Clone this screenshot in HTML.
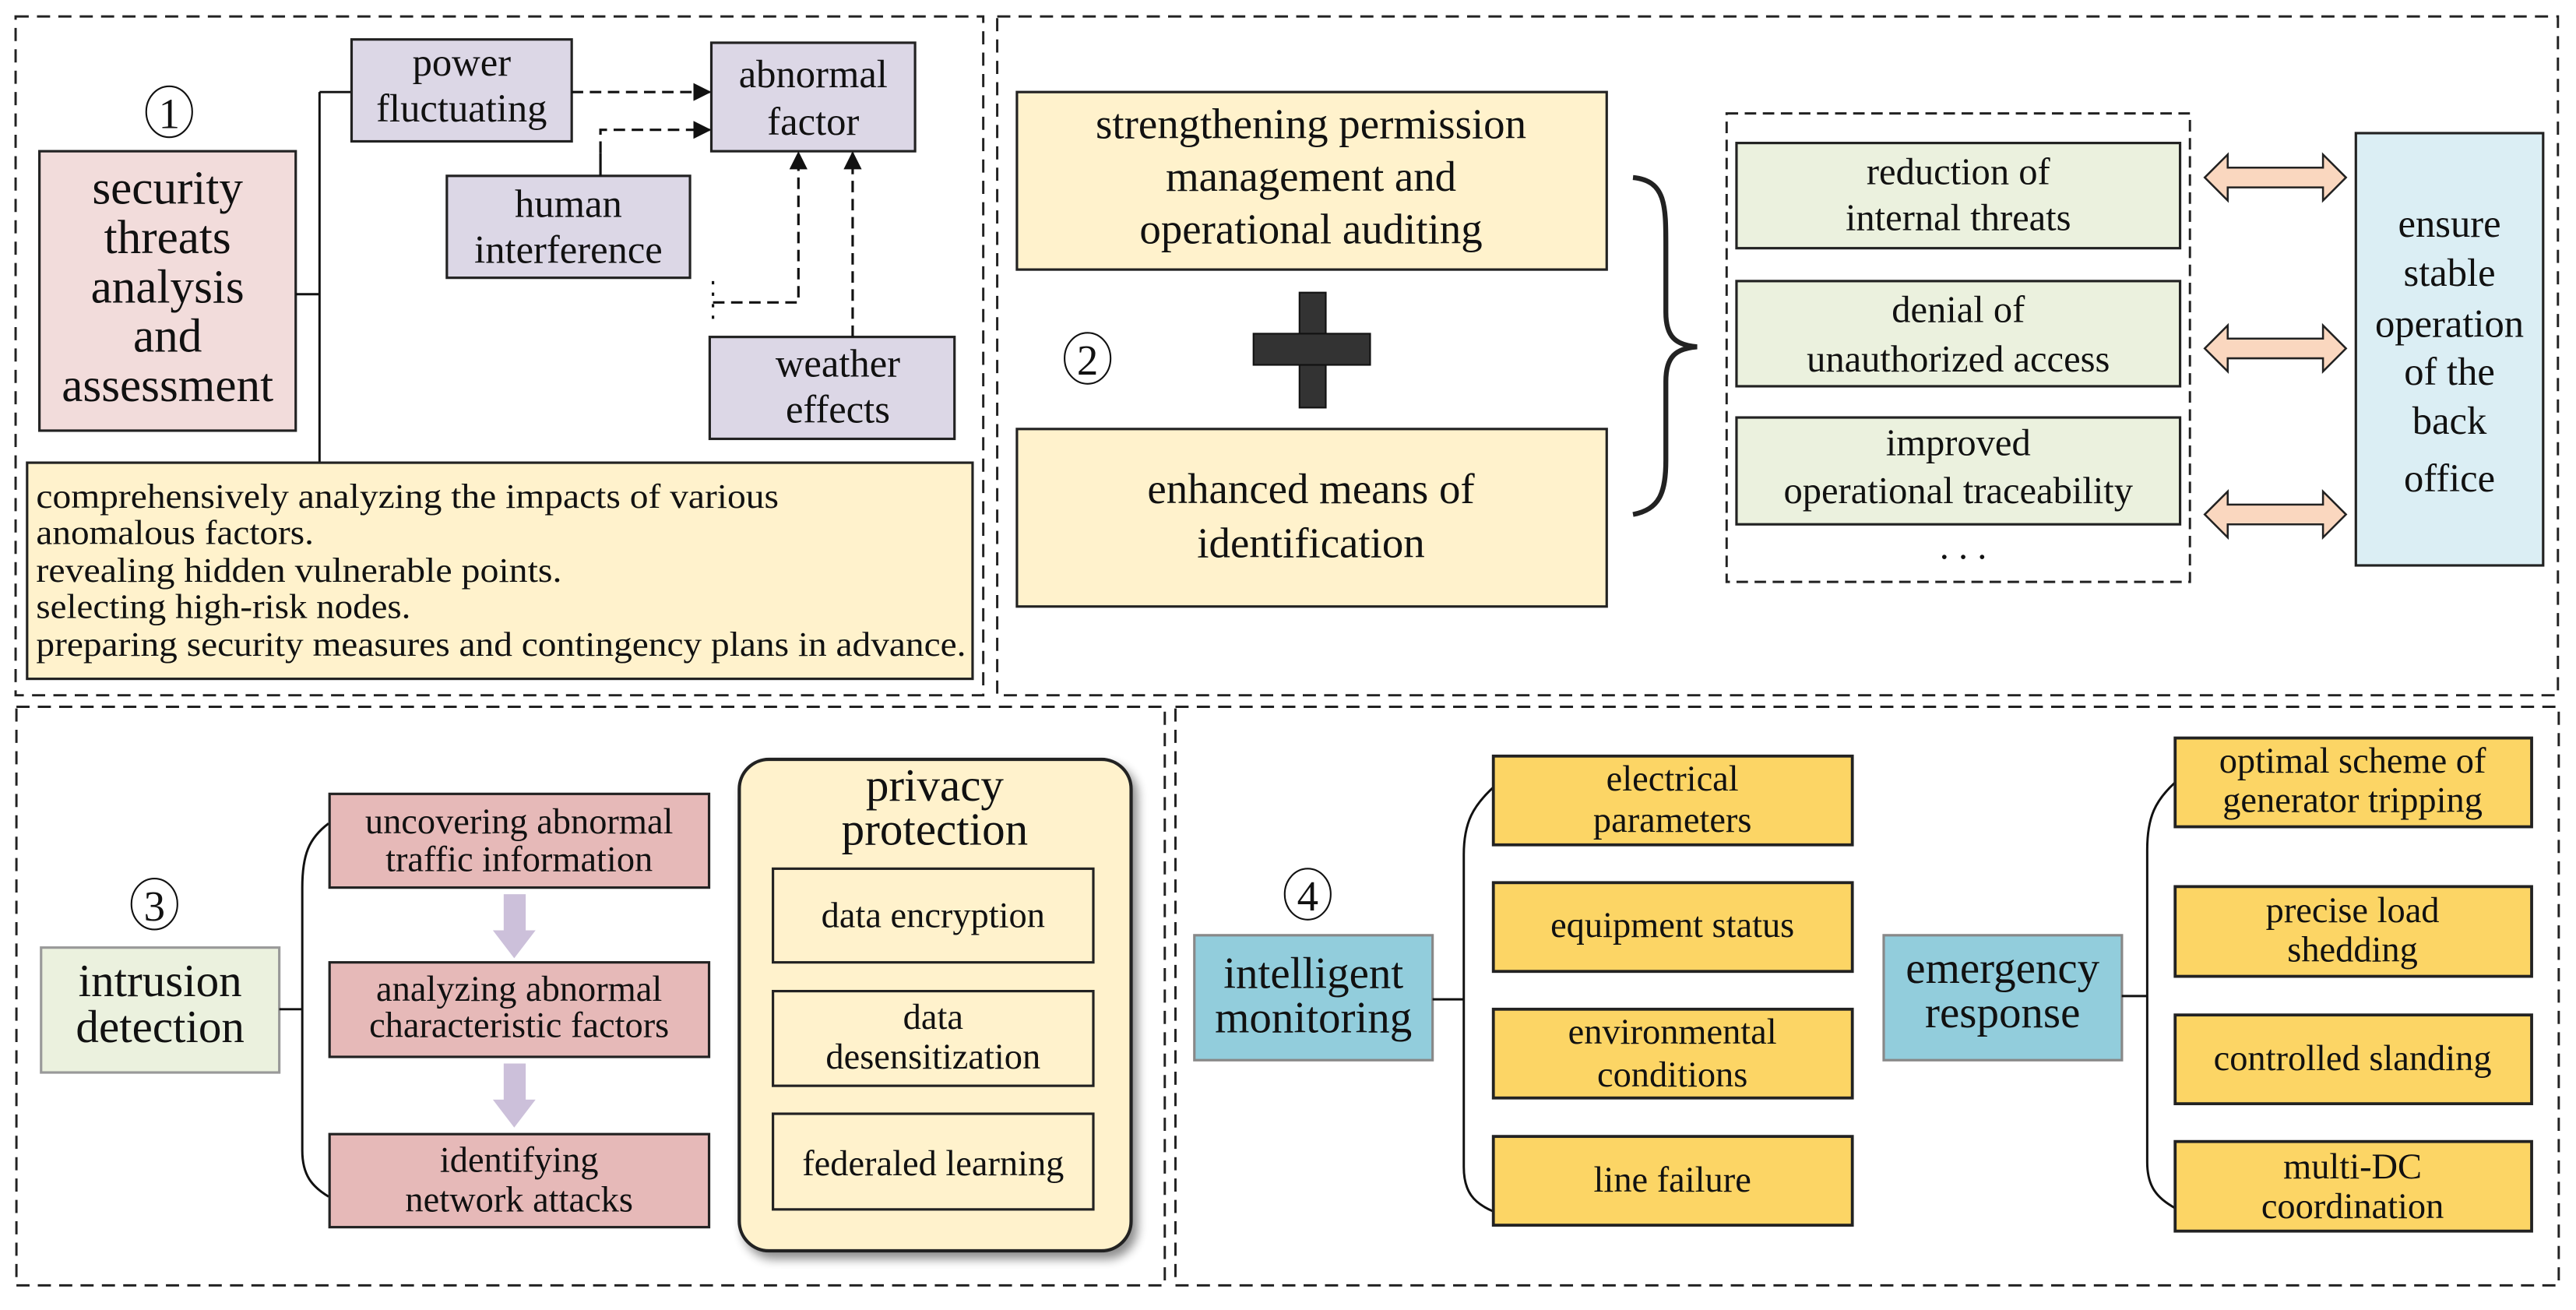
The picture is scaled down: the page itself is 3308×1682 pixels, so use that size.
<!DOCTYPE html>
<html><head><meta charset="utf-8"><style>
html,body{margin:0;padding:0;background:#fff;}
svg{display:block;}
text{font-family:"Liberation Serif",serif;fill:#111;text-anchor:middle;}
text.l{text-anchor:start;}
</style></head><body>
<svg width="3308" height="1682" viewBox="0 0 1568 797" preserveAspectRatio="none" xmlns="http://www.w3.org/2000/svg">
<defs>
<marker id="ah" markerWidth="11" markerHeight="11" refX="10" refY="5.5" orient="auto" markerUnits="userSpaceOnUse">
<path d="M0,0 L11,5.5 L0,11 z" fill="#111"/></marker>
<filter id="sh" x="-10%" y="-10%" width="130%" height="130%"><feGaussianBlur in="SourceAlpha" stdDeviation="3"/><feOffset dx="3" dy="4"/><feComponentTransfer><feFuncA type="linear" slope="0.45"/></feComponentTransfer><feMerge><feMergeNode/><feMergeNode in="SourceGraphic"/></feMerge></filter>
</defs>
<g fill="none" stroke="#222" stroke-width="1.4" stroke-dasharray="8,5">
<rect x="9.5" y="10" width="589" height="413"/>
<rect x="607" y="10" width="950" height="413"/>
<rect x="10" y="430" width="699" height="352"/>
<rect x="715.5" y="430" width="842" height="352"/>
</g>

<!-- Panel 1 -->
<ellipse cx="103" cy="68" rx="14" ry="15.5" fill="none" stroke="#111" stroke-width="1"/>
<text x="103" y="78" font-size="26">1</text>
<rect x="24" y="92" width="156" height="170" fill="#f2dcdb" stroke="#222" stroke-width="1.5"/>
<g font-size="29"><text x="102" y="124">security</text><text x="102" y="154">threats</text><text x="102" y="184">analysis</text><text x="102" y="214">and</text><text x="102" y="244">assessment</text></g>
<g stroke="#111" stroke-width="1.4" fill="none">
<path d="M194.5,56 V282 M180,179 H194.5 M194.5,56 H214"/>
</g>
<rect x="214" y="24" width="134" height="62" fill="#dcd7e6" stroke="#222" stroke-width="1.5"/>
<g font-size="24"><text x="281" y="46">power</text><text x="281" y="74">fluctuating</text></g>
<rect x="433" y="26" width="124" height="66" fill="#dcd7e6" stroke="#222" stroke-width="1.5"/>
<g font-size="24"><text x="495" y="53">abnormal</text><text x="495" y="82">factor</text></g>
<rect x="272" y="107" width="148" height="62" fill="#dcd7e6" stroke="#222" stroke-width="1.5"/>
<g font-size="24"><text x="346" y="132">human</text><text x="346" y="160">interference</text></g>
<rect x="432" y="205" width="149" height="62" fill="#dcd7e6" stroke="#222" stroke-width="1.5"/>
<g font-size="24"><text x="510" y="229">weather</text><text x="510" y="257">effects</text></g>
<g stroke="#111" stroke-width="1.5" fill="none">
<path d="M348,56 H432" stroke-dasharray="7,4" marker-end="url(#ah)"/>
<path d="M365.5,107 V93"/>
<path d="M365.5,93 V79 H432" stroke-dasharray="7,4" marker-end="url(#ah)"/>
<path d="M434,184 H486 V93" stroke-dasharray="7,4" marker-end="url(#ah)"/>
<path d="M434,171 V199" stroke-dasharray="2,5"/>
<path d="M519,205 V93" stroke-dasharray="7,4" marker-end="url(#ah)"/>
</g>
<rect x="16.5" y="281.5" width="575.5" height="131.5" fill="#fff2cc" stroke="#222" stroke-width="1.5"/>
<g font-size="21"><text class="l" x="22" y="309" textLength="452" lengthAdjust="spacingAndGlyphs">comprehensively analyzing the impacts of various</text>
<text class="l" x="22" y="331" textLength="169" lengthAdjust="spacingAndGlyphs">anomalous factors.</text>
<text class="l" x="22" y="354" textLength="320" lengthAdjust="spacingAndGlyphs">revealing hidden vulnerable points.</text>
<text class="l" x="22" y="376" textLength="228" lengthAdjust="spacingAndGlyphs">selecting high-risk nodes.</text>
<text class="l" x="22" y="399" textLength="566" lengthAdjust="spacingAndGlyphs">preparing security measures and contingency plans in advance.</text></g>

<!-- Panel 2 -->
<rect x="619" y="56" width="359" height="108" fill="#fff2cc" stroke="#222" stroke-width="1.5"/>
<g font-size="26"><text x="798" y="84">strengthening permission</text><text x="798" y="116">management and</text><text x="798" y="148">operational auditing</text></g>
<rect x="619" y="261" width="359" height="108" fill="#fff2cc" stroke="#222" stroke-width="1.5"/>
<g font-size="26"><text x="798" y="306">enhanced means of</text><text x="798" y="339">identification</text></g>
<ellipse cx="662" cy="218" rx="14" ry="15.5" fill="none" stroke="#111" stroke-width="1"/>
<text x="662" y="228" font-size="26">2</text>
<rect x="791" y="178" width="16" height="70" fill="#333" stroke="#111" stroke-width="1"/>
<rect x="763" y="203" width="71" height="19" fill="#333" stroke="#111" stroke-width="1"/>
<path d="M994,108 C1014,110 1014,125 1014,150 L1014,190 C1014,205 1020,210 1033,211 C1020,212 1014,217 1014,232 L1014,280 C1014,300 1010,310 994,313" fill="none" stroke="#222" stroke-width="3"/>
<rect x="1051" y="69" width="282" height="285" fill="none" stroke="#222" stroke-width="1.4" stroke-dasharray="7,4"/>
<g fill="#ebf1de" stroke="#222" stroke-width="1.5">
<rect x="1057" y="87" width="270" height="64"/><rect x="1057" y="171" width="270" height="64"/><rect x="1057" y="254" width="270" height="65"/></g>
<g font-size="23"><text x="1192" y="112">reduction of</text><text x="1192" y="140">internal threats</text>
<text x="1192" y="196">denial of</text><text x="1192" y="226">unauthorized access</text>
<text x="1192" y="277">improved</text><text x="1192" y="306">operational traceability</text>
<text x="1195" y="340">. . .</text></g>
<g fill="#fad7bf" stroke="#222" stroke-width="1.2">
<path d="M1342,108 L1356,94 V102 H1414 V94 L1428,108 L1414,122 V114 H1356 V122 Z"/>
<path d="M1342,212 L1356,198 V206 H1414 V198 L1428,212 L1414,226 V218 H1356 V226 Z"/>
<path d="M1342,313 L1356,299 V307 H1414 V299 L1428,313 L1414,327 V319 H1356 V327 Z"/>
</g>
<rect x="1434" y="81" width="114" height="263" fill="#dbeef4" stroke="#222" stroke-width="1.5"/>
<g font-size="24"><text x="1491" y="144">ensure</text><text x="1491" y="174">stable</text><text x="1491" y="205">operation</text><text x="1491" y="234">of the</text><text x="1491" y="264">back</text><text x="1491" y="299">office</text></g>

<!-- Panel 3 -->
<ellipse cx="94" cy="550" rx="14" ry="15.5" fill="none" stroke="#111" stroke-width="1"/>
<text x="94" y="560" font-size="26">3</text>
<rect x="25" y="576.5" width="145" height="76" fill="#ebf1de" stroke="#999" stroke-width="1.5"/>
<g font-size="28"><text x="97.5" y="606">intrusion</text><text x="97.5" y="634">detection</text></g>
<path d="M200,501 C188,510 184,520 184,540 V700 C184,715 190,722 200,728 M170,614 H184" fill="none" stroke="#111" stroke-width="1.4"/>
<g fill="#e6b9b8" stroke="#222" stroke-width="1.5">
<rect x="200.6" y="483" width="231" height="57"/><rect x="200.6" y="585.5" width="231" height="57.5"/><rect x="200.6" y="690" width="231" height="56.6"/></g>
<g font-size="22"><text x="316" y="507">uncovering abnormal</text><text x="316" y="530">traffic information</text>
<text x="316" y="609">analyzing abnormal</text><text x="316" y="631">characteristic factors</text>
<text x="316" y="713">identifying</text><text x="316" y="737">network attacks</text></g>
<g fill="#ccc0da">
<path d="M306.6,544 H320 V566 H326 L313,583 L300,566 H306.6 Z"/>
<path d="M306.6,647 H320 V669 H326 L313,686 L300,669 H306.6 Z"/></g>
<rect x="450" y="462" width="238.5" height="299" rx="18" ry="18" fill="#fff2cc" stroke="#222" stroke-width="2" filter="url(#sh)"/>
<g font-size="28"><text x="569" y="487">privacy</text><text x="569" y="514">protection</text></g>
<g fill="#fff2cc" stroke="#222" stroke-width="1.5">
<rect x="470.5" y="528.5" width="195" height="57"/><rect x="470.5" y="603" width="195" height="57.6"/><rect x="470.5" y="677.6" width="195" height="58.2"/></g>
<g font-size="22"><text x="568" y="564">data encryption</text><text x="568" y="626">data</text><text x="568" y="650">desensitization</text><text x="568" y="715">federaled learning</text></g>

<!-- Panel 4 -->
<ellipse cx="796" cy="544" rx="14" ry="15.5" fill="none" stroke="#111" stroke-width="1"/>
<text x="796" y="554" font-size="26">4</text>
<rect x="727" y="569" width="145" height="76" fill="#92cddc" stroke="#888" stroke-width="1.5"/>
<g font-size="27"><text x="799.5" y="601">intelligent</text><text x="799.5" y="628">monitoring</text></g>
<path d="M909,479 C897,490 891,500 891,520 V710 C891,725 897,732 909,737 M872,608 H891" fill="none" stroke="#111" stroke-width="1.4"/>
<g fill="#fcd565" stroke="#222" stroke-width="1.8">
<rect x="909" y="460" width="218.5" height="54"/><rect x="909" y="537" width="218.5" height="54"/><rect x="909" y="614" width="218.5" height="54"/><rect x="909" y="691.4" width="218.5" height="54"/></g>
<g font-size="22"><text x="1018" y="481">electrical</text><text x="1018" y="506">parameters</text><text x="1018" y="570">equipment status</text>
<text x="1018" y="635">environmental</text><text x="1018" y="661">conditions</text><text x="1018" y="725">line failure</text></g>
<rect x="1146.6" y="569" width="145" height="76" fill="#92cddc" stroke="#888" stroke-width="1.5"/>
<g font-size="27"><text x="1219" y="598">emergency</text><text x="1219" y="625">response</text></g>
<path d="M1324,476 C1312,487 1307,497 1307,517 V707 C1307,722 1313,729 1324,735 M1291.5,606 H1307" fill="none" stroke="#111" stroke-width="1.4"/>
<g fill="#fcd565" stroke="#222" stroke-width="1.8">
<rect x="1324" y="449" width="217" height="54"/><rect x="1324" y="539.4" width="217" height="54.6"/><rect x="1324" y="617.5" width="217" height="54"/><rect x="1324" y="694.5" width="217" height="54.5"/></g>
<g font-size="22"><text x="1432" y="470">optimal scheme of</text><text x="1432" y="494">generator tripping</text>
<text x="1432" y="561">precise load</text><text x="1432" y="585">shedding</text><text x="1432" y="651">controlled slanding</text>
<text x="1432" y="717">multi-DC</text><text x="1432" y="741">coordination</text></g>
</svg>
</body></html>
